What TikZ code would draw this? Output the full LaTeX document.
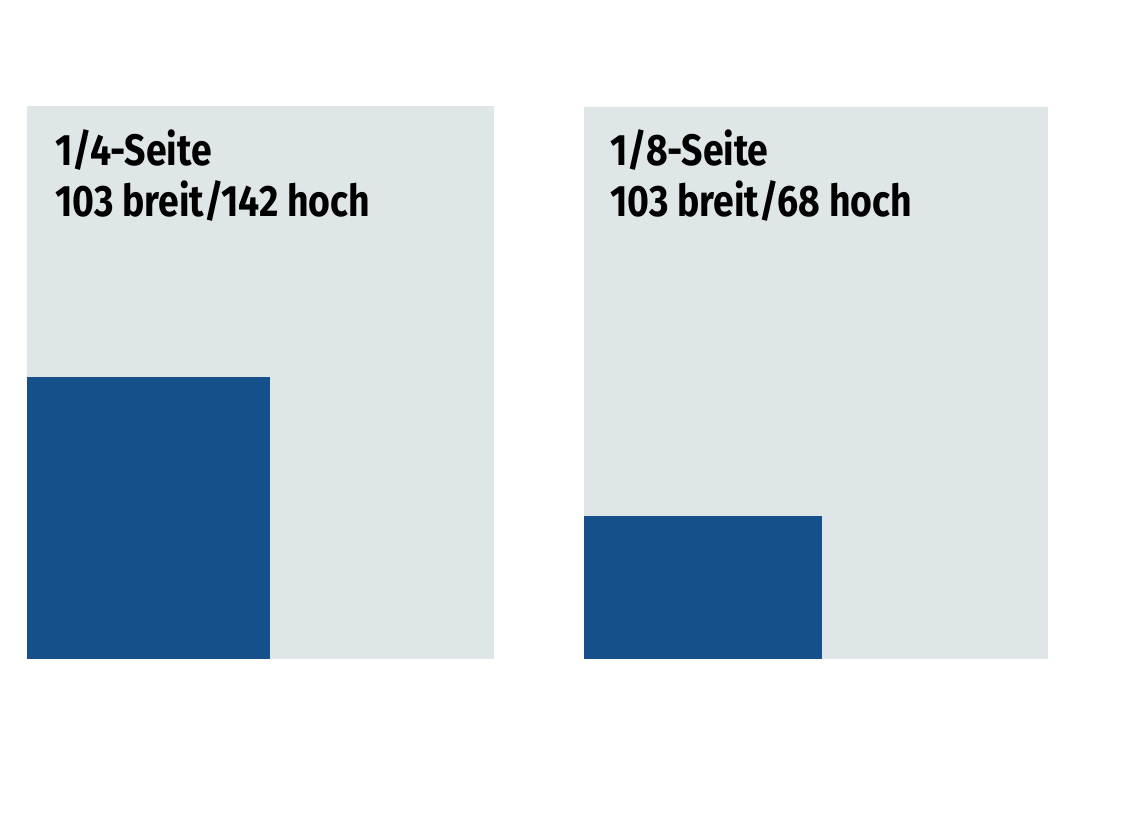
\documentclass[tikz,border=0pt]{standalone}
\usepackage{fontspec}
\setmainfont{Fira Sans}
\newfontfamily\condfont[FakeStretch=0.85]{Fira Sans}
\definecolor{pagegray}{HTML}{DFE6E8}
\definecolor{adblue}{HTML}{15508B}
\begin{document}
\begin{tikzpicture}[x=1pt,y=-1pt,
  page/.style={fill=pagegray,draw=none},
  ad/.style={fill=adblue,draw=none},
  lbl/.style={anchor=base west,inner sep=0pt,font=\condfont\bfseries\fontsize{44}{51}\selectfont,align=left,text=black}]
\useasboundingbox (0,0) rectangle (1124,825);
\fill[white] (0,0) rectangle (1124,825);
% left page
\path[page] (27,106) rectangle (494,659);
\path[ad] (27,377) rectangle (270,659);
\node[lbl] (l1) at (55,165) {1/4-Seite};
\node[lbl] (l2) at (55,216) {103 breit/142 hoch};
% right page
\path[page] (584,107) rectangle (1048,659);
\path[ad] (584,516) rectangle (822,659);
\node[lbl] (r1) at (610,165) {1/8-Seite};
\node[lbl] (r2) at (610,216) {103 breit/68 hoch};
\end{tikzpicture}
\end{document}
